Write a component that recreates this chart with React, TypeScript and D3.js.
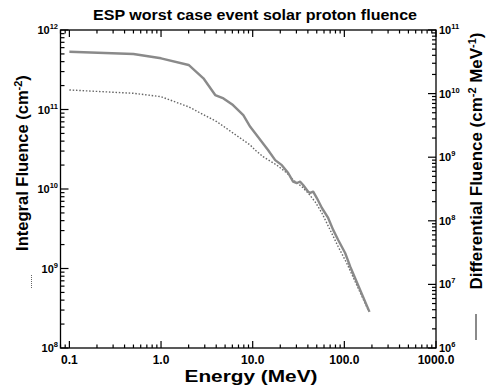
import React from "react";
import * as d3 from "d3";

// Data
const integralEnergy = [0.1, 0.5, 1.0, 2.0, 4.06, 9.4, 10.6, 13.0, 18.3, 23.6, 27.6, 34.4, 40.3, 48.0, 56.9, 70.0, 85.7, 106, 182];
const integralFluence = [1.76e11, 1.6e11, 1.45e11, 1.08e11, 7.03e10, 3.57e10, 3.1e10, 2.55e10, 2.0e10, 1.59e10, 1.3e10, 1.07e10, 8.9e9, 6.9e9, 4.99e9, 3.05e9, 1.88e9, 1.17e9, 3.0e8];

const diffEnergy = [0.1, 0.5, 1.0, 2.0, 2.9, 3.9, 4.8, 6.1, 7.9, 9.4, 14.7, 17.6, 20.8, 24.4, 27.6, 30.3, 33.0, 35.5, 40.3, 42.4, 45.7, 50.1, 56.9, 66.6, 75.5, 85.7, 102, 116, 188];
const diffFluence = [4.56e10, 4.2e10, 3.59e10, 2.82e10, 1.74e10, 9.5e9, 8.4e9, 6.6e9, 4.6e9, 3.0e9, 1.3e9, 9.0e8, 7.5e8, 5.65e8, 4.12e8, 3.93e8, 4.12e8, 3.66e8, 2.87e8, 2.74e8, 2.87e8, 2.28e8, 1.59e8, 1.11e8, 7.2e7, 5.0e7, 3.12e7, 1.9e7, 3.7e6];

const xTickValues = [0.1, 1, 10, 100, 1000];
const xTickLabels = ["0.1", "1.0", "10.0", "100.0", "1000.0"];
const leftExponents = [8, 9, 10, 11, 12];
const rightExponents = [6, 7, 8, 9, 10, 11];

const title = "ESP worst case event solar proton fluence";

export default function App() {
  const W = 488, H = 386;
  const L = 60.5, R = 436, T = 30, B = 348;
  const x = d3.scaleLog().domain([0.08, 1000]).range([L, R]);
  const yL = d3.scaleLog().domain([1e8, 1e12]).range([B, T]);
  const yR = d3.scaleLog().domain([1e6, 1e11]).range([B, T]);
  const font = "'Liberation Sans', Arial, sans-serif";

  const lineL = d3.line<number>().x((_, i) => x(integralEnergy[i])).y((d) => yL(d));
  const lineR = d3.line<number>().x((_, i) => x(diffEnergy[i])).y((d) => yR(d));

  const xMinor: number[] = [];
  for (let e = -2; e <= 2; e++) {
    for (let m = 2; m <= 9; m++) {
      const v = m * Math.pow(10, e);
      if (v >= 0.08 && v <= 1000) xMinor.push(v);
    }
  }
  const minorFor = (lo: number, hi: number) => {
    const out: number[] = [];
    for (let e = lo; e < hi; e++) for (let m = 2; m <= 9; m++) out.push(m * Math.pow(10, e));
    return out;
  };
  const leftMinor = minorFor(8, 12);
  const rightMinor = minorFor(6, 11);

  const stroke = "#000";
  return (
    <svg width={W} height={H} style={{ display: "block", position: "absolute", left: 0, top: 0, background: "#fff" }}>
      <rect x={0} y={0} width={W} height={H} fill="#fff" />
      <text x={255} y={20} textAnchor="middle" fontFamily={font} fontWeight="bold" fontSize={14} textLength={324} lengthAdjust="spacingAndGlyphs" fill="#000">{title}</text>
      <rect x={L} y={T} width={R - L} height={B - T} fill="none" stroke={stroke} strokeWidth={1.3} />
      {xTickValues.map((v) => (
        <g key={"xm" + v}>
          <line x1={x(v)} x2={x(v)} y1={B} y2={B - 7} stroke={stroke} strokeWidth={1.2} />
          <line x1={x(v)} x2={x(v)} y1={T} y2={T + 7} stroke={stroke} strokeWidth={1.2} />
        </g>
      ))}
      {xMinor.map((v) => (
        <g key={"xn" + v}>
          <line x1={x(v)} x2={x(v)} y1={B} y2={B - 3.5} stroke={stroke} strokeWidth={1.2} />
          <line x1={x(v)} x2={x(v)} y1={T} y2={T + 3.5} stroke={stroke} strokeWidth={1.2} />
        </g>
      ))}
      {xTickValues.map((v, i) => (
        <text key={"xl" + v} x={x(v)} y={364} textAnchor="middle" fontFamily={font} fontWeight="bold" fontSize={12} fill="#000">{xTickLabels[i]}</text>
      ))}
      {leftExponents.map((e) => (
        <g key={"lm" + e}>
          <line x1={L} x2={L + 8} y1={yL(Math.pow(10, e))} y2={yL(Math.pow(10, e))} stroke={stroke} strokeWidth={1.2} />
          <text x={58} y={yL(Math.pow(10, e)) + 4} textAnchor="end" fontFamily={font} fontWeight="bold" fontSize={11} fill="#000">
            10<tspan dy={-5} fontSize={7.5}>{e}</tspan>
          </text>
        </g>
      ))}
      {leftMinor.map((v) => (
        <line key={"ln" + v} x1={L} x2={L + 4} y1={yL(v)} y2={yL(v)} stroke={stroke} strokeWidth={1.2} />
      ))}
      {rightExponents.map((e) => (
        <g key={"rm" + e}>
          <line x1={R} x2={R - 8} y1={yR(Math.pow(10, e))} y2={yR(Math.pow(10, e))} stroke={stroke} strokeWidth={1.2} />
          <text x={439} y={yR(Math.pow(10, e)) + 4} textAnchor="start" fontFamily={font} fontWeight="bold" fontSize={11} fill="#000">
            10<tspan dy={-5} fontSize={7.5}>{e}</tspan>
          </text>
        </g>
      ))}
      {rightMinor.map((v) => (
        <line key={"rn" + v} x1={R} x2={R - 4} y1={yR(v)} y2={yR(v)} stroke={stroke} strokeWidth={1.2} />
      ))}
      <path d={lineL(integralFluence) || ""} fill="none" stroke="#666" strokeWidth={1.4} strokeDasharray="1.5 1.8" />
      <path d={lineR(diffFluence) || ""} fill="none" stroke="#8a8a8a" strokeWidth={2.4} strokeLinejoin="round" />
      <text x={251} y={382} textAnchor="middle" fontFamily={font} fontWeight="bold" fontSize={17} textLength={133} lengthAdjust="spacingAndGlyphs" fill="#000">Energy (MeV)</text>
      <text transform="translate(28,163) rotate(-90)" textAnchor="middle" fontFamily={font} fontWeight="bold" fontSize={16.5} fill="#000">
        Integral Fluence (cm<tspan dy={-6} fontSize={11}>-2</tspan><tspan dy={6}>)</tspan>
      </text>
      <line x1={31.5} x2={31.5} y1={275} y2={289} stroke="#666" strokeWidth={1} strokeDasharray="1 1" />
      <text transform="translate(482,161) rotate(-90)" textAnchor="middle" fontFamily={font} fontWeight="bold" fontSize={17} textLength={257} lengthAdjust="spacingAndGlyphs" fill="#000">
        Differential Fluence (cm<tspan dy={-6} fontSize={11}>-2</tspan><tspan dy={6}> MeV</tspan><tspan dy={-6} fontSize={11}>-1</tspan><tspan dy={6}>)</tspan>
      </text>
      <line x1={476} x2={476} y1={314} y2={340} stroke="#8a8a8a" strokeWidth={2} />
    </svg>
  );
}
